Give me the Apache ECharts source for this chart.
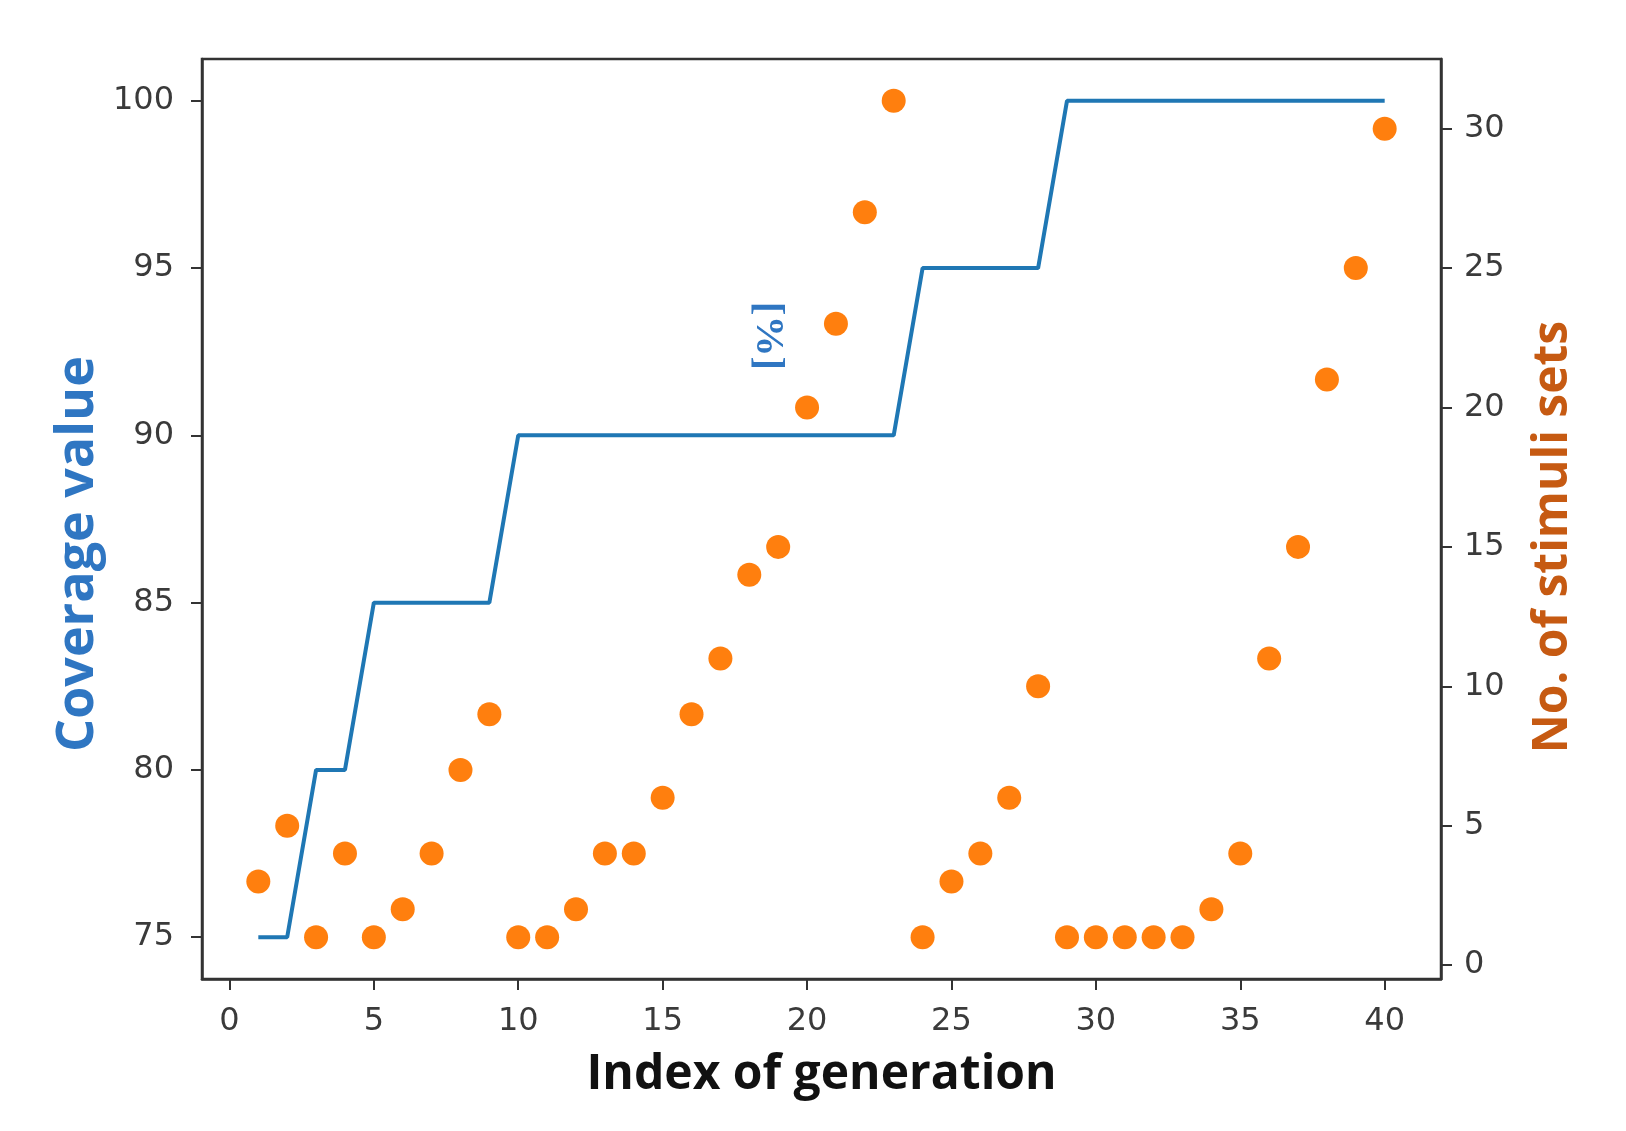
<!DOCTYPE html>
<html>
<head>
<meta charset="utf-8">
<style>
  html, body { margin: 0; padding: 0; background: #ffffff; }
  #chart { width: 1626px; height: 1131px; }
</style>
<script src="https://cdn.jsdelivr.net/npm/echarts@6/dist/echarts.min.js"></script>
</head>
<body>
<div id="chart"></div>
<script>
// ---- data ----
const generations = [1,2,3,4,5,6,7,8,9,10,11,12,13,14,15,16,17,18,19,20,21,22,23,24,25,26,27,28,29,30,31,32,33,34,35,36,37,38,39,40];
const coverage = [75,75,80,80,85,85,85,85,85,90,90,90,90,90,90,90,90,90,90,90,90,90,90,95,95,95,95,95,100,100,100,100,100,100,100,100,100,100,100,100];
const stimuliSets = [3,5,1,4,1,2,4,7,9,1,1,2,4,4,6,9,11,14,15,20,23,27,31,1,3,4,6,10,1,1,1,1,1,2,4,11,15,21,25,30];
const xTicks = [0,5,10,15,20,25,30,35,40];
const leftTicks = [75,80,85,90,95,100];
const rightTicks = [0,5,10,15,20,25,30];

const chart = echarts.init(document.getElementById('chart'), null, { renderer: 'canvas' });

const axisColor = '#333333';
const tickFont = { fontFamily: 'DejaVu Sans', fontSize: 32, color: '#3a3a3a' };

const option = {
  backgroundColor: '#ffffff',
  animation: false,
  grid: {
    left: 202, right: 185, top: 59, bottom: 152,
    containLabel: false,
    outerBoundsMode: 'none',
    show: true, borderColor: axisColor, borderWidth: 2.5, backgroundColor: 'transparent'
  },
  xAxis: {
    type: 'value', min: -0.95, max: 41.95,
    name: 'Index of generation', nameLocation: 'middle', nameGap: 72,
    nameTextStyle: { fontFamily: 'Open Sans', fontWeight: 'bold', fontSize: 48, color: '#111111' },
    axisLine: { show: true, onZero: false, lineStyle: { color: axisColor, width: 2.5 } },
    axisTick: { show: true, length: 11, lineStyle: { color: axisColor, width: 2 }, customValues: xTicks },
    axisLabel: Object.assign({ margin: 27, customValues: xTicks }, tickFont),
    splitLine: { show: false }
  },
  yAxis: [
    {
      type: 'value', min: 73.75, max: 101.25, position: 'left',
      axisLine: { show: true, onZero: false, lineStyle: { color: axisColor, width: 2.5 } },
      axisTick: { show: true, length: 11, lineStyle: { color: axisColor, width: 2 }, customValues: leftTicks },
      axisLabel: Object.assign({ margin: 28, customValues: leftTicks }, tickFont),
      splitLine: { show: false }
    },
    {
      type: 'value', min: -0.5, max: 32.5, position: 'right',
      axisLine: { show: true, onZero: false, lineStyle: { color: axisColor, width: 2.5 } },
      axisTick: { show: true, length: 11, lineStyle: { color: axisColor, width: 2 }, customValues: rightTicks },
      axisLabel: Object.assign({ margin: 23, customValues: rightTicks }, tickFont),
      splitLine: { show: false }
    }
  ],
  graphic: [
    {
      type: 'text', x: 78, y: 554, rotation: Math.PI / 2,
      style: { text: 'Coverage value', fontFamily: 'Open Sans', fontWeight: 'bold', fontSize: 52,
               fill: '#2f76c2', align: 'center', verticalAlign: 'middle' }
    },
    {
      type: 'text', x: 1553, y: 537, rotation: Math.PI / 2,
      style: { text: 'No. of stimuli sets', fontFamily: 'Open Sans', fontWeight: 'bold', fontSize: 48,
               fill: '#c65a12', align: 'center', verticalAlign: 'middle' }
    },
    {
      type: 'text', x: 768, y: 336, rotation: -Math.PI / 2,
      style: { text: '[%]', fontFamily: 'Liberation Serif', fontWeight: 'bold', fontSize: 41,
               fill: '#2f76c2', align: 'center', verticalAlign: 'middle' }
    }
  ],
  series: [
    {
      type: 'line', yAxisIndex: 0,
      data: generations.map((g, i) => [g, coverage[i]]),
      showSymbol: false, symbol: 'none',
      lineStyle: { color: '#1f77b4', width: 4 },
      z: 2
    },
    {
      type: 'scatter', yAxisIndex: 1,
      data: generations.map((g, i) => [g, stimuliSets[i]]),
      symbol: 'circle', symbolSize: 24,
      itemStyle: { color: '#ff7f0e', opacity: 1 },
      z: 3
    }
  ]
};

chart.setOption(option);
</script>
</body>
</html>
